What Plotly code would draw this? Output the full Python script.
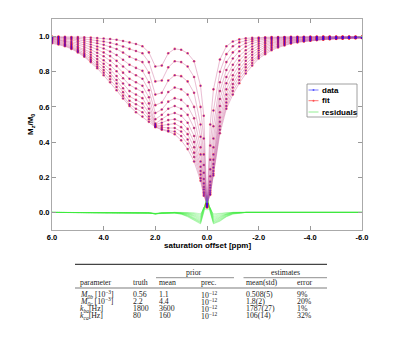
import plotly.graph_objects as go

# ---------------- data ----------------
offsets = [6.0, 5.75, 5.5, 5.25, 5.0, 4.75, 4.5, 4.25, 4.0, 3.75, 3.5, 3.25, 3.0,
           2.75, 2.5, 2.25, 2.0, 1.75, 1.5, 1.25, 1.0, 0.75, 0.5, 0.25, 0.125, 0.0,
           -0.125, -0.25, -0.5, -0.75, -1.0, -1.25, -1.5, -1.75, -2.0, -2.25, -2.5,
           -2.75, -3.0, -3.25, -3.5, -3.75, -4.0, -4.25, -4.5, -4.75, -5.0, -5.25,
           -5.5, -5.75, -6.0]

curve_01 = [1.0, 1.0, 0.999, 0.998, 0.997, 0.996, 0.994, 0.992, 0.989, 0.986, 0.982, 0.975, 0.967,
            0.958, 0.945, 0.91, 0.83, 0.835, 0.905, 0.93, 0.925, 0.905, 0.86, 0.72, 0.55, 0.03,
            0.50, 0.70, 0.87, 0.945, 0.972, 0.984, 0.99, 0.993, 0.995, 0.996, 0.997, 0.998, 0.998,
            0.999, 0.999, 0.999, 1.0, 1.0, 1.0, 1.0, 1.0, 1.0, 1.0, 1.0, 1.0]
curve_02 = [0.998, 0.997, 0.995, 0.993, 0.99, 0.986, 0.982, 0.977, 0.972, 0.965, 0.956, 0.944, 0.93,
            0.918, 0.905, 0.855, 0.745, 0.75, 0.825, 0.86, 0.855, 0.83, 0.77, 0.60, 0.42, 0.03,
            0.38, 0.58, 0.80, 0.90, 0.945, 0.967, 0.978, 0.985, 0.989, 0.992, 0.994, 0.995, 0.996,
            0.997, 0.997, 0.998, 0.998, 0.998, 0.999, 0.999, 0.999, 0.999, 0.999, 0.999, 0.999]
curve_03 = [0.996, 0.994, 0.991, 0.987, 0.982, 0.976, 0.969, 0.962, 0.953, 0.942, 0.929, 0.909, 0.885,
            0.87, 0.855, 0.795, 0.67, 0.68, 0.75, 0.78, 0.775, 0.745, 0.68, 0.50, 0.33, 0.035,
            0.30, 0.49, 0.74, 0.855, 0.91, 0.943, 0.962, 0.974, 0.981, 0.986, 0.989, 0.991, 0.993,
            0.994, 0.995, 0.996, 0.996, 0.997, 0.997, 0.997, 0.998, 0.998, 0.998, 0.998, 0.998]
curve_04 = [0.993, 0.99, 0.985, 0.98, 0.973, 0.965, 0.955, 0.944, 0.932, 0.915, 0.895, 0.868, 0.84,
            0.822, 0.805, 0.74, 0.61, 0.625, 0.685, 0.71, 0.70, 0.67, 0.60, 0.43, 0.27, 0.035,
            0.245, 0.42, 0.69, 0.81, 0.875, 0.917, 0.943, 0.96, 0.971, 0.978, 0.983, 0.986, 0.989,
            0.991, 0.992, 0.993, 0.994, 0.995, 0.995, 0.996, 0.996, 0.997, 0.997, 0.997, 0.997]
curve_05 = [0.99, 0.985, 0.979, 0.971, 0.963, 0.953, 0.941, 0.927, 0.91, 0.889, 0.862, 0.83, 0.80,
            0.78, 0.76, 0.695, 0.565, 0.585, 0.63, 0.65, 0.64, 0.605, 0.535, 0.37, 0.225, 0.04,
            0.205, 0.37, 0.645, 0.77, 0.84, 0.89, 0.922, 0.944, 0.959, 0.969, 0.976, 0.981, 0.985,
            0.987, 0.989, 0.991, 0.992, 0.993, 0.994, 0.994, 0.995, 0.996, 0.996, 0.996, 0.997]
curve_06 = [0.987, 0.981, 0.974, 0.964, 0.953, 0.941, 0.926, 0.908, 0.888, 0.863, 0.832, 0.795, 0.76,
            0.74, 0.72, 0.655, 0.53, 0.555, 0.59, 0.605, 0.59, 0.555, 0.48, 0.33, 0.19, 0.04,
            0.175, 0.33, 0.605, 0.735, 0.81, 0.864, 0.902, 0.928, 0.947, 0.96, 0.969, 0.975, 0.98,
            0.983, 0.986, 0.988, 0.989, 0.991, 0.992, 0.993, 0.994, 0.994, 0.995, 0.995, 0.996]
curve_07 = [0.984, 0.977, 0.969, 0.957, 0.943, 0.929, 0.911, 0.89, 0.865, 0.837, 0.803, 0.763, 0.725,
            0.705, 0.685, 0.62, 0.505, 0.53, 0.555, 0.565, 0.55, 0.51, 0.435, 0.29, 0.165, 0.045,
            0.155, 0.30, 0.57, 0.70, 0.78, 0.84, 0.882, 0.912, 0.934, 0.95, 0.962, 0.969, 0.975,
            0.979, 0.982, 0.985, 0.987, 0.989, 0.99, 0.991, 0.992, 0.993, 0.994, 0.994, 0.995]
curve_08 = [0.98, 0.972, 0.963, 0.95, 0.935, 0.918, 0.897, 0.872, 0.845, 0.814, 0.776, 0.733, 0.69,
            0.67, 0.65, 0.59, 0.50, 0.51, 0.525, 0.53, 0.515, 0.475, 0.40, 0.26, 0.145, 0.045,
            0.14, 0.275, 0.54, 0.67, 0.755, 0.815, 0.862, 0.896, 0.921, 0.94, 0.954, 0.963, 0.97,
            0.975, 0.979, 0.982, 0.985, 0.987, 0.988, 0.99, 0.991, 0.992, 0.993, 0.993, 0.994]
curve_09 = [0.976, 0.968, 0.958, 0.944, 0.927, 0.907, 0.883, 0.856, 0.827, 0.794, 0.753, 0.706, 0.66,
            0.64, 0.62, 0.565, 0.495, 0.495, 0.50, 0.505, 0.485, 0.445, 0.37, 0.235, 0.13, 0.05,
            0.125, 0.255, 0.515, 0.645, 0.73, 0.793, 0.843, 0.88, 0.908, 0.93, 0.946, 0.957, 0.965,
            0.971, 0.976, 0.979, 0.982, 0.985, 0.987, 0.988, 0.99, 0.991, 0.992, 0.993, 0.993]
curve_10 = [0.972, 0.963, 0.953, 0.939, 0.92, 0.898, 0.871, 0.842, 0.81, 0.775, 0.733, 0.684, 0.635,
            0.615, 0.595, 0.545, 0.49, 0.485, 0.48, 0.48, 0.46, 0.415, 0.34, 0.215, 0.115, 0.05,
            0.115, 0.235, 0.49, 0.625, 0.71, 0.773, 0.825, 0.865, 0.895, 0.92, 0.938, 0.95, 0.96,
            0.967, 0.973, 0.977, 0.98, 0.983, 0.985, 0.987, 0.989, 0.99, 0.991, 0.992, 0.993]
curve_11 = [0.967, 0.959, 0.949, 0.934, 0.915, 0.891, 0.862, 0.83, 0.795, 0.757, 0.713, 0.664, 0.615,
            0.59, 0.57, 0.53, 0.487, 0.475, 0.465, 0.46, 0.435, 0.39, 0.315, 0.195, 0.105, 0.05,
            0.105, 0.22, 0.47, 0.605, 0.69, 0.753, 0.807, 0.85, 0.885, 0.91, 0.93, 0.944, 0.955,
            0.963, 0.97, 0.974, 0.978, 0.981, 0.984, 0.986, 0.988, 0.989, 0.99, 0.991, 0.992]
curve_12 = [0.962, 0.955, 0.945, 0.93, 0.91, 0.885, 0.855, 0.82, 0.78, 0.74, 0.695, 0.648, 0.605,
            0.57, 0.545, 0.515, 0.485, 0.47, 0.46, 0.445, 0.41, 0.36, 0.29, 0.18, 0.095, 0.05,
            0.10, 0.21, 0.45, 0.59, 0.67, 0.735, 0.79, 0.835, 0.875, 0.90, 0.922, 0.938, 0.95,
            0.96, 0.967, 0.972, 0.976, 0.98, 0.983, 0.985, 0.987, 0.989, 0.99, 0.991, 0.992]

curves = [curve_01, curve_02, curve_03, curve_04, curve_05, curve_06,
          curve_07, curve_08, curve_09, curve_10, curve_11, curve_12]

res_offsets = [6.0, 3.0, 2.25, 2.0, 1.75, 1.25, 1.0, 0.75, 0.5, 0.25, 0.125, 0.0,
               -0.125, -0.25, -0.5, -0.75, -1.0, -1.25, -1.5, -3.0, -6.0]
res_01 = [0, 0, -0.002, -0.005, -0.002, 0, 0, 0, -0.002, -0.008, 0.02, 0.015, 0.018, -0.008, -0.004, 0, 0, 0, 0, 0, 0]
res_02 = [0, 0, -0.002, -0.006, -0.002, 0, 0, -0.002, -0.006, -0.015, 0.025, 0.025, 0.022, -0.015, -0.008, -0.002, 0, 0, 0, 0, 0]
res_03 = [0, 0, -0.002, -0.007, -0.003, 0, -0.001, -0.004, -0.01, -0.022, 0.028, 0.035, 0.026, -0.022, -0.014, -0.005, 0, 0, 0, 0, 0]
res_04 = [0, 0, -0.002, -0.008, -0.003, 0, -0.002, -0.006, -0.015, -0.028, 0.03, 0.045, 0.028, -0.028, -0.019, -0.008, -0.001, 0, 0, 0, 0]
res_05 = [0, 0, -0.003, -0.008, -0.003, -0.001, -0.003, -0.008, -0.019, -0.034, 0.028, 0.055, 0.026, -0.034, -0.024, -0.01, -0.002, 0, 0, 0, 0]
res_06 = [0, -0.001, -0.003, -0.008, -0.004, -0.001, -0.004, -0.01, -0.023, -0.04, 0.025, 0.062, 0.022, -0.04, -0.028, -0.012, -0.003, 0, 0, 0, 0]
res_07 = [0, -0.001, -0.003, -0.008, -0.004, -0.002, -0.005, -0.013, -0.027, -0.045, 0.022, 0.07, 0.018, -0.045, -0.032, -0.014, -0.004, -0.001, 0, 0, 0]
res_08 = [0, -0.001, -0.003, -0.008, -0.004, -0.002, -0.006, -0.015, -0.031, -0.05, 0.018, 0.077, 0.014, -0.05, -0.036, -0.016, -0.005, -0.001, 0, 0, 0]
res_09 = [0, -0.001, -0.003, -0.008, -0.004, -0.003, -0.007, -0.018, -0.035, -0.054, 0.013, 0.083, 0.01, -0.054, -0.04, -0.019, -0.006, -0.002, 0, 0, 0]
res_10 = [0, -0.001, -0.004, -0.008, -0.005, -0.003, -0.008, -0.02, -0.038, -0.058, 0.009, 0.089, 0.006, -0.058, -0.044, -0.021, -0.007, -0.002, 0, 0, 0]
res_11 = [0, -0.002, -0.004, -0.008, -0.005, -0.004, -0.009, -0.022, -0.042, -0.062, 0.004, 0.095, 0.003, -0.062, -0.047, -0.023, -0.008, -0.003, 0, 0, 0]
res_12 = [0, -0.002, -0.004, -0.008, -0.005, -0.004, -0.01, -0.025, -0.045, -0.065, 0.0, 0.1, 0.0, -0.065, -0.05, -0.025, -0.01, -0.003, 0, 0, 0]
residuals = [res_01, res_02, res_03, res_04, res_05, res_06,
             res_07, res_08, res_09, res_10, res_11, res_12]

x_tickvals = [6, 4, 2, 0, -2, -4, -6]
x_ticktext = ["6.0", "4.0", "2.0", "0.0", "-2.0", "-4.0", "-6.0"]
y_tickvals = [0.0, 0.2, 0.4, 0.6, 0.8, 1.0]
y_ticktext = ["0.0", "0.2", "0.4", "0.6", "0.8", "1.0"]

legend_names = ["data", "fit", "residuals"]

# table content
tab_params = ["<i>M</i><sub><i>0b</i></sub> [10<sup>−3</sup>]",
              "<i>M</i><sub><i>0c</i></sub> [10<sup>−3</sup>]",
              "<i>k</i><sub><i>ba</i></sub>[Hz]",
              "<i>k</i><sub><i>ca</i></sub>[Hz]"]
tab_truth = ["0.56", "2.2", "1800", "80"]
tab_prior_mean = ["1.1", "4.4", "3600", "160"]
tab_prior_prec = ["10<sup>−12</sup>"] * 4
tab_est = ["0.508(5)", "1.8(2)", "1787(27)", "106(14)"]
tab_err = ["9%", "20%", "1%", "32%"]
tab_headers = ["parameter", "truth", "mean", "prec.", "mean(std)", "error"]

for c in curves:
    assert len(c) == len(offsets), len(c)
for r in residuals:
    assert len(r) == len(res_offsets), len(r)

# ---------------- figure ----------------
L, R, T, B = 52, 362, 19, 230
W, H = 400, 349


def px(x):
    return (x - L) / (R - L)


def py(y):
    return (B - y) / (B - T)


fig = go.Figure()

for r in residuals:
    fig.add_trace(go.Scatter(x=res_offsets, y=r, mode="lines",
                             line=dict(color="rgba(60,235,60,0.6)", width=0.5),
                             showlegend=False, hoverinfo="skip"))

for c in curves:
    fig.add_trace(go.Scatter(x=offsets, y=c, mode="lines+markers",
                             line=dict(color="rgba(255,70,70,0.45)", width=0.6),
                             marker=dict(color="rgba(255,0,0,0.6)", size=2.6, line=dict(width=0)),
                             showlegend=False, hoverinfo="skip"))
for c in curves:
    fig.add_trace(go.Scatter(x=offsets, y=c, mode="lines+markers",
                             line=dict(color="rgba(80,80,255,0.25)", width=0.5),
                             marker=dict(color="rgba(60,0,230,0.7)", size=1.5, line=dict(width=0)),
                             showlegend=False, hoverinfo="skip"))

shapes = []
annotations = []

# legend (manual)
shapes.append(dict(type="rect", xref="paper", yref="paper",
                   x0=px(307), x1=px(357), y0=py(117), y1=py(84),
                   line=dict(color="#888", width=0.8), fillcolor="white", layer="above"))
leg_colors = ["rgb(90,90,255)", "rgb(255,80,80)", "rgb(120,235,120)"]
leg_y = [90, 100.7, 112]
for name, col, yy in zip(legend_names, leg_colors, leg_y):
    shapes.append(dict(type="line", xref="paper", yref="paper",
                       x0=px(308.5), x1=px(318.5), y0=py(yy), y1=py(yy),
                       line=dict(color=col, width=0.8), layer="above"))
    if name != "residuals":
        shapes.append(dict(type="circle", xref="paper", yref="paper",
                           x0=px(312.5), x1=px(314.5), y0=py(yy + 1.0), y1=py(yy - 1.0),
                           line=dict(width=0), fillcolor=col, layer="above"))
    annotations.append(dict(text="<b>%s</b>" % name, xref="paper", yref="paper",
                            x=px(320), y=py(yy), xanchor="left", yanchor="middle",
                            showarrow=False, font=dict(size=8, color="black",
                                                       family="Liberation Sans, Arial")))

# axis titles
annotations.append(dict(text="<b>saturation offset [ppm]</b>", xref="paper", yref="paper",
                        x=px(207), y=py(246), xanchor="center", yanchor="middle",
                        showarrow=False, font=dict(size=8, color="black", family="Liberation Sans, Arial")))
annotations.append(dict(text="<b>M<sub>z</sub>/M<sub>0</sub></b>", xref="paper", yref="paper",
                        x=px(31), y=py(124), xanchor="center", yanchor="middle", textangle=-90,
                        showarrow=False, font=dict(size=8, color="black", family="Liberation Sans, Arial")))

# table
tfont = dict(size=7.8, color="#222", family="Liberation Serif, Times New Roman, serif")
rule_col = "#444"
shapes.append(dict(type="line", xref="paper", yref="paper", x0=px(75), x1=px(327),
                   y0=py(264.3), y1=py(264.3), line=dict(color=rule_col, width=1.3)))
shapes.append(dict(type="line", xref="paper", yref="paper", x0=px(156), x1=px(234),
                   y0=py(277.7), y1=py(277.7), line=dict(color=rule_col, width=0.6)))
shapes.append(dict(type="line", xref="paper", yref="paper", x0=px(243.5), x1=px(327),
                   y0=py(277.7), y1=py(277.7), line=dict(color=rule_col, width=0.6)))
shapes.append(dict(type="line", xref="paper", yref="paper", x0=px(75), x1=px(327),
                   y0=py(288), y1=py(288), line=dict(color=rule_col, width=0.7)))

annotations.append(dict(text="prior", xref="paper", yref="paper", x=px(193.5), y=py(272.5),
                        xanchor="center", yanchor="middle", showarrow=False, font=tfont))
annotations.append(dict(text="estimates", xref="paper", yref="paper", x=px(285), y=py(272.5),
                        xanchor="center", yanchor="middle", showarrow=False, font=tfont))
col_x = [78.3, 131, 156.7, 199.3, 244.3, 295]
for hx, htxt in zip(col_x, tab_headers):
    annotations.append(dict(text=htxt, xref="paper", yref="paper", x=px(hx), y=py(282.5),
                            xanchor="left", yanchor="middle", showarrow=False, font=tfont))
row_y = [294.5, 301.5, 308.5, 315.5]
columns = [tab_params, tab_truth, tab_prior_mean, tab_prior_prec, tab_est, tab_err]
for cx, col in zip(col_x, columns):
    for ry, txt in zip(row_y, col):
        annotations.append(dict(text=txt, xref="paper", yref="paper", x=px(cx), y=py(ry),
                                xanchor="left", yanchor="middle", showarrow=False, font=tfont))

axis_font = dict(size=7.5, color="black", family="Liberation Sans, Arial")
fig.update_layout(
    width=W, height=H,
    margin=dict(l=L, r=W - R, t=T, b=H - B, pad=0),
    plot_bgcolor="white", paper_bgcolor="white",
    showlegend=False,
    shapes=shapes, annotations=annotations,
    xaxis=dict(range=[6, -6], tickvals=x_tickvals,
               ticktext=["<b>%s</b>" % t for t in x_ticktext],
               ticks="inside", ticklen=4, tickcolor="#999", tickwidth=1,
               showline=True, linecolor="#aaa", linewidth=1, mirror="ticks",
               showgrid=False, zeroline=False, tickfont=axis_font),
    yaxis=dict(range=[-0.1, 1.1], tickvals=y_tickvals,
               ticktext=["<b>%s</b>" % t for t in y_ticktext],
               ticks="inside", ticklen=4, tickcolor="#999", tickwidth=1,
               showline=True, linecolor="#aaa", linewidth=1, mirror="ticks",
               showgrid=False, zeroline=False, tickfont=axis_font),
)

fig.write_html("out.html", config={"displayModeBar": False},
               post_script="document.body.style.margin='0px';document.body.style.overflow='hidden';")
